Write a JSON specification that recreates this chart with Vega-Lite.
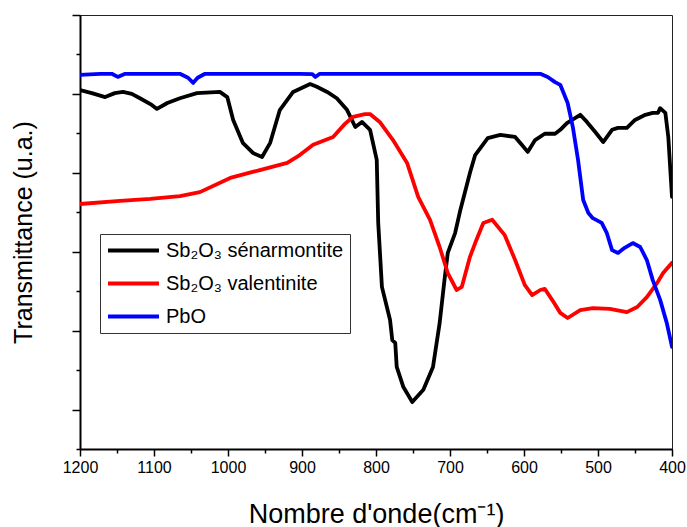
{
  "$schema": "https://vega.github.io/schema/vega-lite/v6.json",
  "width": 592,
  "height": 434,
  "autosize": {"type": "none"},
  "padding": {"left": 80, "top": 15, "right": 15, "bottom": 78},
  "background": "white",
  "config": {
    "view": {"stroke": "#222222", "strokeWidth": 1},
    "font": "Liberation Sans"
  },
  "data": {
    "values": [
      {"s": "Sb₂O₃ sénarmontite", "w": 1200, "t": 91.0},
      {"s": "Sb₂O₃ sénarmontite", "w": 1184, "t": 90.2},
      {"s": "Sb₂O₃ sénarmontite", "w": 1166, "t": 89.2},
      {"s": "Sb₂O₃ sénarmontite", "w": 1153, "t": 90.2},
      {"s": "Sb₂O₃ sénarmontite", "w": 1142, "t": 90.5},
      {"s": "Sb₂O₃ sénarmontite", "w": 1130, "t": 90.0},
      {"s": "Sb₂O₃ sénarmontite", "w": 1119, "t": 88.9},
      {"s": "Sb₂O₃ sénarmontite", "w": 1103, "t": 87.2},
      {"s": "Sb₂O₃ sénarmontite", "w": 1096, "t": 86.2},
      {"s": "Sb₂O₃ sénarmontite", "w": 1082, "t": 87.7},
      {"s": "Sb₂O₃ sénarmontite", "w": 1065, "t": 88.9},
      {"s": "Sb₂O₃ sénarmontite", "w": 1042, "t": 90.2},
      {"s": "Sb₂O₃ sénarmontite", "w": 1011, "t": 90.5},
      {"s": "Sb₂O₃ sénarmontite", "w": 1001, "t": 89.2},
      {"s": "Sb₂O₃ sénarmontite", "w": 993, "t": 83.4},
      {"s": "Sb₂O₃ sénarmontite", "w": 980, "t": 77.6},
      {"s": "Sb₂O₃ sénarmontite", "w": 966, "t": 75.0},
      {"s": "Sb₂O₃ sénarmontite", "w": 954, "t": 74.0},
      {"s": "Sb₂O₃ sénarmontite", "w": 943, "t": 77.6},
      {"s": "Sb₂O₃ sénarmontite", "w": 930, "t": 85.9},
      {"s": "Sb₂O₃ sénarmontite", "w": 912, "t": 90.5},
      {"s": "Sb₂O₃ sénarmontite", "w": 889, "t": 92.5},
      {"s": "Sb₂O₃ sénarmontite", "w": 880, "t": 91.8},
      {"s": "Sb₂O₃ sénarmontite", "w": 866, "t": 90.5},
      {"s": "Sb₂O₃ sénarmontite", "w": 853, "t": 88.9},
      {"s": "Sb₂O₃ sénarmontite", "w": 839, "t": 85.9},
      {"s": "Sb₂O₃ sénarmontite", "w": 828, "t": 81.6},
      {"s": "Sb₂O₃ sénarmontite", "w": 819, "t": 82.9},
      {"s": "Sb₂O₃ sénarmontite", "w": 808, "t": 80.9},
      {"s": "Sb₂O₃ sénarmontite", "w": 799, "t": 73.3},
      {"s": "Sb₂O₃ sénarmontite", "w": 797, "t": 57.3},
      {"s": "Sb₂O₃ sénarmontite", "w": 792, "t": 41.1},
      {"s": "Sb₂O₃ sénarmontite", "w": 781, "t": 32.7},
      {"s": "Sb₂O₃ sénarmontite", "w": 778, "t": 27.6},
      {"s": "Sb₂O₃ sénarmontite", "w": 774, "t": 26.9},
      {"s": "Sb₂O₃ sénarmontite", "w": 772, "t": 20.8},
      {"s": "Sb₂O₃ sénarmontite", "w": 763, "t": 15.7},
      {"s": "Sb₂O₃ sénarmontite", "w": 751, "t": 11.9},
      {"s": "Sb₂O₃ sénarmontite", "w": 736, "t": 15.0},
      {"s": "Sb₂O₃ sénarmontite", "w": 723, "t": 20.8},
      {"s": "Sb₂O₃ sénarmontite", "w": 714, "t": 31.9},
      {"s": "Sb₂O₃ sénarmontite", "w": 707, "t": 43.6},
      {"s": "Sb₂O₃ sénarmontite", "w": 703, "t": 49.7},
      {"s": "Sb₂O₃ sénarmontite", "w": 693, "t": 54.8},
      {"s": "Sb₂O₃ sénarmontite", "w": 686, "t": 60.6},
      {"s": "Sb₂O₃ sénarmontite", "w": 673, "t": 70.0},
      {"s": "Sb₂O₃ sénarmontite", "w": 666, "t": 74.5},
      {"s": "Sb₂O₃ sénarmontite", "w": 649, "t": 78.8},
      {"s": "Sb₂O₃ sénarmontite", "w": 632, "t": 79.6},
      {"s": "Sb₂O₃ sénarmontite", "w": 612, "t": 79.1},
      {"s": "Sb₂O₃ sénarmontite", "w": 603, "t": 77.1},
      {"s": "Sb₂O₃ sénarmontite", "w": 595, "t": 75.3},
      {"s": "Sb₂O₃ sénarmontite", "w": 585, "t": 78.3},
      {"s": "Sb₂O₃ sénarmontite", "w": 572, "t": 79.9},
      {"s": "Sb₂O₃ sénarmontite", "w": 558, "t": 79.9},
      {"s": "Sb₂O₃ sénarmontite", "w": 551, "t": 80.9},
      {"s": "Sb₂O₃ sénarmontite", "w": 542, "t": 82.6},
      {"s": "Sb₂O₃ sénarmontite", "w": 524, "t": 84.7},
      {"s": "Sb₂O₃ sénarmontite", "w": 515, "t": 82.9},
      {"s": "Sb₂O₃ sénarmontite", "w": 504, "t": 80.4},
      {"s": "Sb₂O₃ sénarmontite", "w": 493, "t": 77.8},
      {"s": "Sb₂O₃ sénarmontite", "w": 481, "t": 80.9},
      {"s": "Sb₂O₃ sénarmontite", "w": 473, "t": 81.4},
      {"s": "Sb₂O₃ sénarmontite", "w": 461, "t": 81.4},
      {"s": "Sb₂O₃ sénarmontite", "w": 450, "t": 83.4},
      {"s": "Sb₂O₃ sénarmontite", "w": 436, "t": 84.7},
      {"s": "Sb₂O₃ sénarmontite", "w": 426, "t": 85.2},
      {"s": "Sb₂O₃ sénarmontite", "w": 419, "t": 85.2},
      {"s": "Sb₂O₃ sénarmontite", "w": 416, "t": 86.4},
      {"s": "Sb₂O₃ sénarmontite", "w": 409, "t": 85.2},
      {"s": "Sb₂O₃ sénarmontite", "w": 405, "t": 79.1},
      {"s": "Sb₂O₃ sénarmontite", "w": 400, "t": 63.9},

      {"s": "Sb₂O₃ valentinite", "w": 1200, "t": 62.1},
      {"s": "Sb₂O₃ valentinite", "w": 1146, "t": 62.9},
      {"s": "Sb₂O₃ valentinite", "w": 1105, "t": 63.4},
      {"s": "Sb₂O₃ valentinite", "w": 1065, "t": 64.1},
      {"s": "Sb₂O₃ valentinite", "w": 1038, "t": 65.1},
      {"s": "Sb₂O₃ valentinite", "w": 997, "t": 68.7},
      {"s": "Sb₂O₃ valentinite", "w": 957, "t": 70.7},
      {"s": "Sb₂O₃ valentinite", "w": 920, "t": 72.5},
      {"s": "Sb₂O₃ valentinite", "w": 903, "t": 74.5},
      {"s": "Sb₂O₃ valentinite", "w": 885, "t": 77.1},
      {"s": "Sb₂O₃ valentinite", "w": 858, "t": 79.1},
      {"s": "Sb₂O₃ valentinite", "w": 842, "t": 82.4},
      {"s": "Sb₂O₃ valentinite", "w": 831, "t": 84.2},
      {"s": "Sb₂O₃ valentinite", "w": 815, "t": 84.9},
      {"s": "Sb₂O₃ valentinite", "w": 808, "t": 84.9},
      {"s": "Sb₂O₃ valentinite", "w": 795, "t": 82.9},
      {"s": "Sb₂O₃ valentinite", "w": 777, "t": 78.3},
      {"s": "Sb₂O₃ valentinite", "w": 758, "t": 72.5},
      {"s": "Sb₂O₃ valentinite", "w": 743, "t": 63.9},
      {"s": "Sb₂O₃ valentinite", "w": 727, "t": 58.1},
      {"s": "Sb₂O₃ valentinite", "w": 714, "t": 51.2},
      {"s": "Sb₂O₃ valentinite", "w": 703, "t": 44.6},
      {"s": "Sb₂O₃ valentinite", "w": 691, "t": 40.3},
      {"s": "Sb₂O₃ valentinite", "w": 684, "t": 41.1},
      {"s": "Sb₂O₃ valentinite", "w": 673, "t": 48.7},
      {"s": "Sb₂O₃ valentinite", "w": 666, "t": 52.2},
      {"s": "Sb₂O₃ valentinite", "w": 655, "t": 57.3},
      {"s": "Sb₂O₃ valentinite", "w": 643, "t": 58.1},
      {"s": "Sb₂O₃ valentinite", "w": 626, "t": 54.2},
      {"s": "Sb₂O₃ valentinite", "w": 612, "t": 47.9},
      {"s": "Sb₂O₃ valentinite", "w": 599, "t": 41.6},
      {"s": "Sb₂O₃ valentinite", "w": 589, "t": 39.0},
      {"s": "Sb₂O₃ valentinite", "w": 578, "t": 40.3},
      {"s": "Sb₂O₃ valentinite", "w": 572, "t": 40.6},
      {"s": "Sb₂O₃ valentinite", "w": 562, "t": 37.8},
      {"s": "Sb₂O₃ valentinite", "w": 551, "t": 34.5},
      {"s": "Sb₂O₃ valentinite", "w": 541, "t": 33.2},
      {"s": "Sb₂O₃ valentinite", "w": 524, "t": 35.2},
      {"s": "Sb₂O₃ valentinite", "w": 507, "t": 35.7},
      {"s": "Sb₂O₃ valentinite", "w": 484, "t": 35.5},
      {"s": "Sb₂O₃ valentinite", "w": 461, "t": 34.7},
      {"s": "Sb₂O₃ valentinite", "w": 447, "t": 36.0},
      {"s": "Sb₂O₃ valentinite", "w": 434, "t": 38.5},
      {"s": "Sb₂O₃ valentinite", "w": 420, "t": 42.1},
      {"s": "Sb₂O₃ valentinite", "w": 412, "t": 44.6},
      {"s": "Sb₂O₃ valentinite", "w": 400, "t": 47.2},

      {"s": "PbO", "w": 1200, "t": 94.8},
      {"s": "PbO", "w": 1173, "t": 95.1},
      {"s": "PbO", "w": 1157, "t": 95.1},
      {"s": "PbO", "w": 1149, "t": 94.3},
      {"s": "PbO", "w": 1139, "t": 95.1},
      {"s": "PbO", "w": 1065, "t": 95.1},
      {"s": "PbO", "w": 1054, "t": 94.1},
      {"s": "PbO", "w": 1047, "t": 92.8},
      {"s": "PbO", "w": 1041, "t": 94.1},
      {"s": "PbO", "w": 1031, "t": 95.1},
      {"s": "PbO", "w": 903, "t": 95.1},
      {"s": "PbO", "w": 886, "t": 95.0},
      {"s": "PbO", "w": 882, "t": 94.3},
      {"s": "PbO", "w": 876, "t": 95.1},
      {"s": "PbO", "w": 768, "t": 95.1},
      {"s": "PbO", "w": 632, "t": 95.1},
      {"s": "PbO", "w": 578, "t": 95.1},
      {"s": "PbO", "w": 568, "t": 94.3},
      {"s": "PbO", "w": 558, "t": 93.0},
      {"s": "PbO", "w": 551, "t": 92.3},
      {"s": "PbO", "w": 541, "t": 87.7},
      {"s": "PbO", "w": 534, "t": 81.6},
      {"s": "PbO", "w": 527, "t": 73.3},
      {"s": "PbO", "w": 520, "t": 63.1},
      {"s": "PbO", "w": 513, "t": 59.8},
      {"s": "PbO", "w": 507, "t": 58.5},
      {"s": "PbO", "w": 495, "t": 57.3},
      {"s": "PbO", "w": 488, "t": 54.7},
      {"s": "PbO", "w": 481, "t": 50.4},
      {"s": "PbO", "w": 473, "t": 49.7},
      {"s": "PbO", "w": 464, "t": 51.0},
      {"s": "PbO", "w": 453, "t": 52.2},
      {"s": "PbO", "w": 443, "t": 51.2},
      {"s": "PbO", "w": 434, "t": 47.9},
      {"s": "PbO", "w": 426, "t": 42.8},
      {"s": "PbO", "w": 416, "t": 37.8},
      {"s": "PbO", "w": 407, "t": 31.9},
      {"s": "PbO", "w": 400, "t": 25.9}
    ]
  },
  "mark": {"type": "line", "strokeWidth": 3.8, "strokeJoin": "round", "strokeCap": "round", "clip": true},
  "encoding": {
    "x": {
      "field": "w", "type": "quantitative",
      "scale": {"domain": [1200, 400], "nice": false, "zero": false},
      "axis": {
        "title": "Nombre d'onde(cm⁻¹)",
        "values": [1200, 1150, 1100, 1050, 1000, 950, 900, 850, 800, 750, 700, 650, 600, 550, 500, 450, 400],
        "labelExpr": "datum.value % 100 === 0 ? datum.label : ''",
        "format": "d",
        "tickSize": 7,
        "tickDash": {"condition": {"test": "datum.value % 100 !== 0", "value": [4, 20]}, "value": []},
        "tickColor": "black", "tickWidth": 1.5,
        "domainColor": "black", "domainWidth": 2,
        "labelFont": "Liberation Sans", "labelFontSize": 16, "labelColor": "black",
        "labelPadding": 3, "labelFlush": false, "labelOverlap": false,
        "titleFont": "Liberation Sans", "titleFontSize": 27, "titleFontWeight": "normal", "titleColor": "black",
        "titlePadding": 26, "grid": false
      }
    },
    "y": {
      "field": "t", "type": "quantitative",
      "scale": {"domain": [0, 110], "nice": false, "zero": false},
      "axis": {
        "title": "Transmittance (u.a.)",
        "values": [0, 10, 20, 30, 40, 50, 60, 70, 80, 90, 100, 110],
        "labels": false,
        "tickSize": 8,
        "tickDash": {"condition": {"test": "datum.value % 20 === 0", "value": [4, 20]}, "value": []},
        "tickColor": "black", "tickWidth": 1.5,
        "domainColor": "black", "domainWidth": 2,
        "titleFont": "Liberation Sans", "titleFontSize": 25, "titleFontWeight": "normal", "titleColor": "black",
        "titlePadding": 35, "grid": false
      }
    },
    "color": {
      "field": "s", "type": "nominal",
      "scale": {"domain": ["Sb₂O₃ sénarmontite", "Sb₂O₃ valentinite", "PbO"], "range": ["#000000", "#ff0000", "#0000ff"]},
      "legend": {
        "title": null,
        "orient": "none",
        "legendX": 20,
        "legendY": 219,
        "strokeColor": "#333333",
        "fillColor": "white",
        "padding": 6,
        "symbolType": "M-1,0H5",
        "symbolSize": 289,
        "symbolStrokeWidth": 4,
        "rowPadding": 12,
        "labelFont": "Liberation Sans",
        "labelFontSize": 20,
        "labelColor": "black",
        "labelLimit": 400,
        "labelOffset": 39
      }
    }
  }
}
